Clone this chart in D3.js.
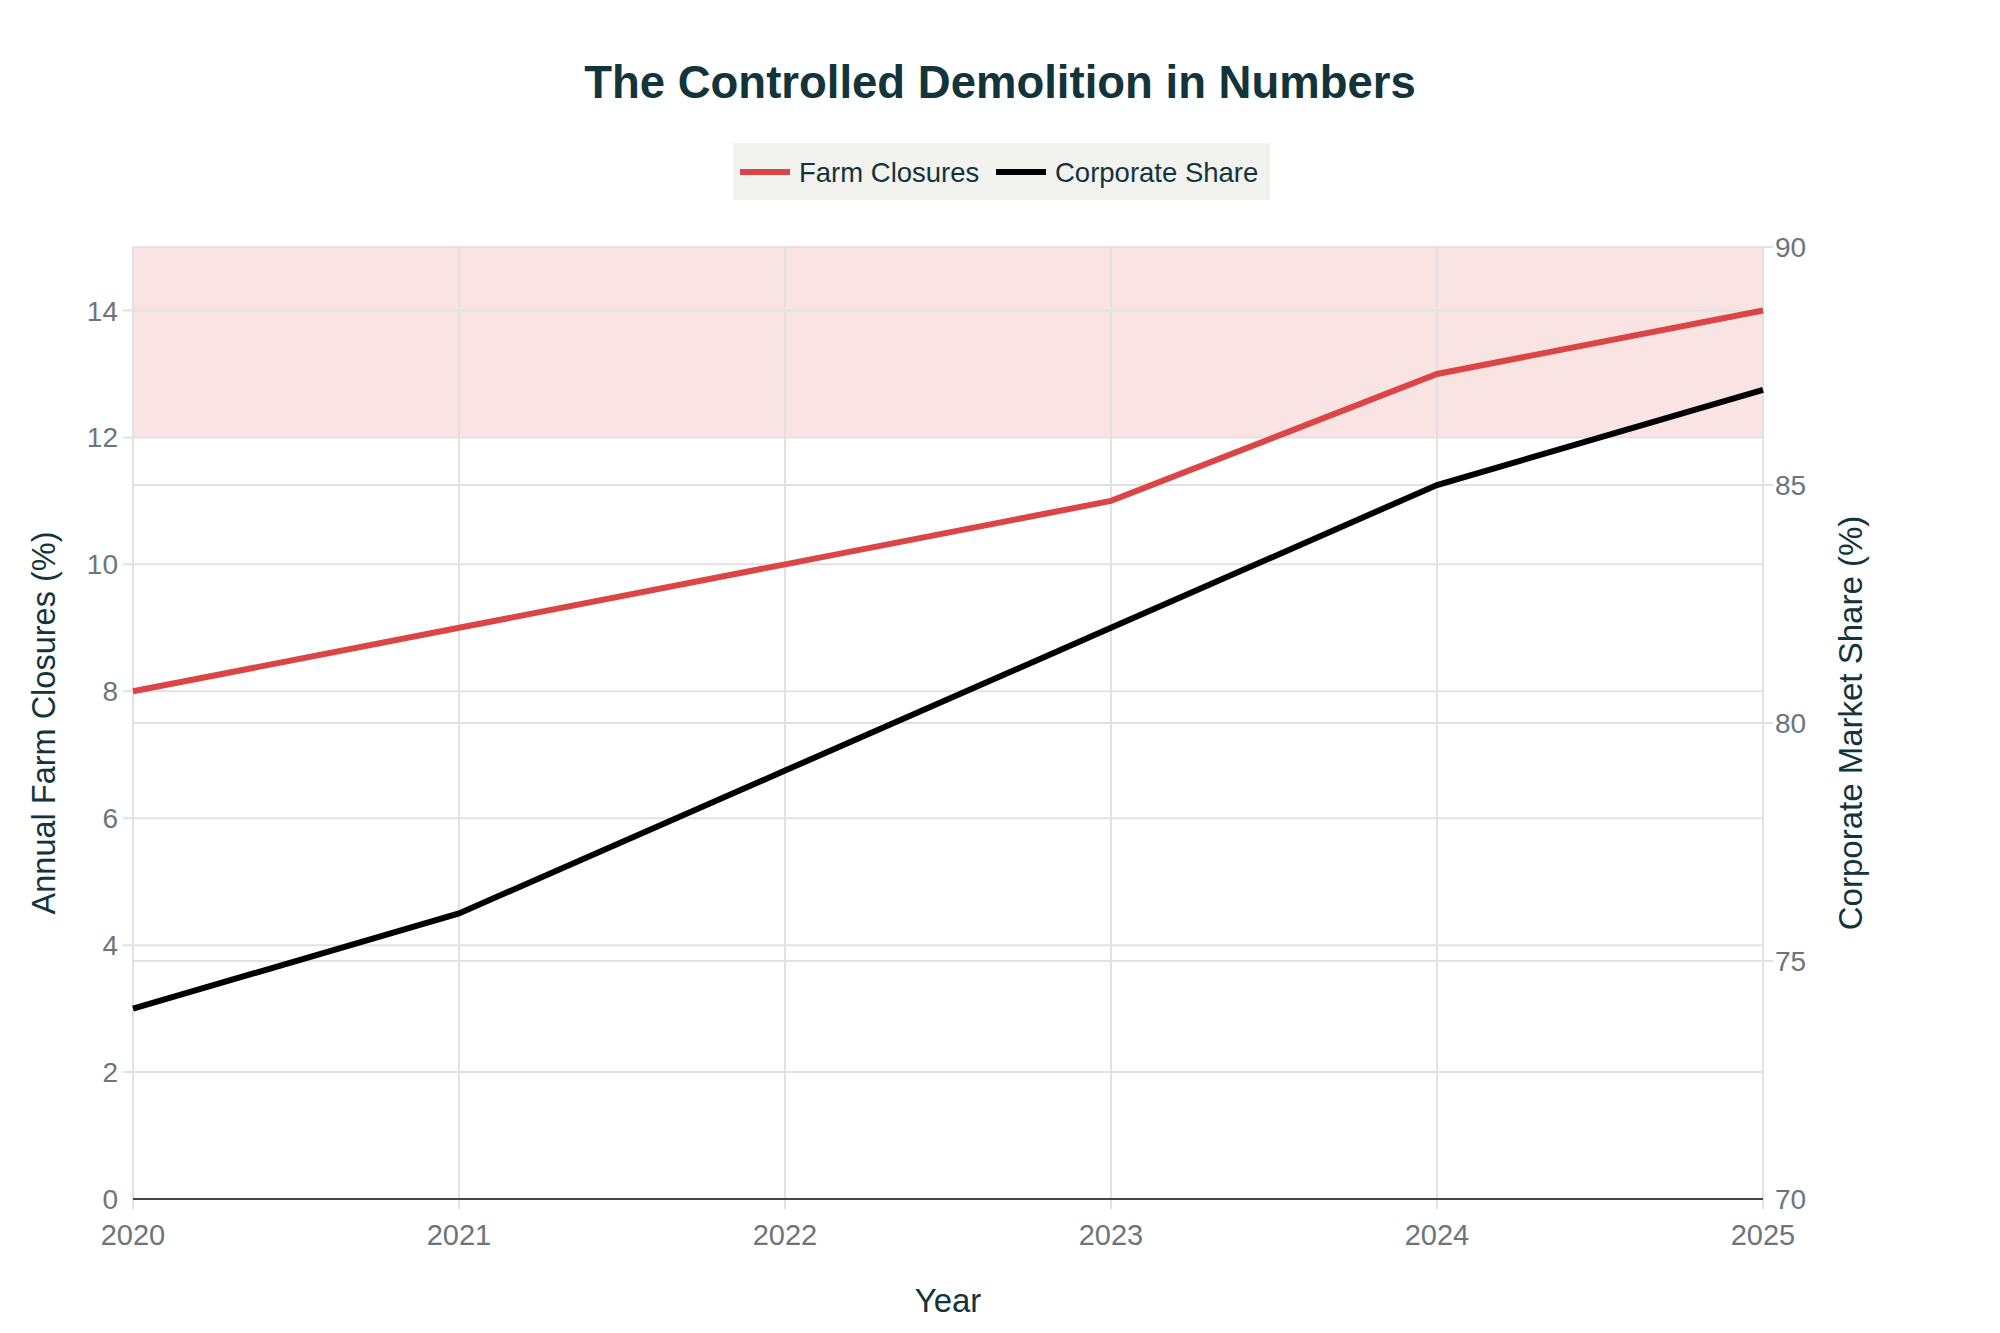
<!DOCTYPE html>
<html>
<head>
<meta charset="utf-8">
<script src="https://cdn.jsdelivr.net/npm/d3@7"></script>
<style>
  body { margin: 0; background: #fff; }
  svg { display: block; font-family: "Liberation Sans", Arial, sans-serif; }
</style>
</head>
<body>
<svg id="chart" width="2000" height="1333"></svg>
<script>
const years = [2020, 2021, 2022, 2023, 2024, 2025];
const farmClosures = [8, 9, 10, 11, 13, 14];
const corporateShare = [74, 76, 79, 82, 85, 87];
const leftTicks = [0, 2, 4, 6, 8, 10, 12, 14];
const rightTicks = [70, 75, 80, 85, 90];
const dangerZone = [12, 15];

const width = 2000;
const height = 1333;
const margin = {top: 247, right: 237, bottom: 134, left: 133};

const svg = d3.select('#chart');

const x = d3.scaleLinear()
            .domain([2020, 2025])
            .range([margin.left, width - margin.right]);

const yL = d3.scaleLinear()
             .domain([0, 15])
             .range([height - margin.bottom, margin.top]);

const yR = d3.scaleLinear()
             .domain([70, 90])
             .range([height - margin.bottom, margin.top]);

const gridCol = '#e2e2e2';
const tickCol = '#6b767c';
const darkCol = '#13343b';

// shaded band (12-15)
svg.append('rect')
    .attr('x', x(2020))
    .attr('width', x(2025) - x(2020))
    .attr('y', yL(dangerZone[1]))
    .attr('height', yL(dangerZone[0]) - yL(dangerZone[1]))
    .attr('fill', '#db4545')
    .attr('fill-opacity', 0.15);

// gridlines
svg.append('g')
    .selectAll('line')
    .data(years)
    .join('line')
    .attr('x1', d => x(d)).attr('x2', d => x(d))
    .attr('y1', margin.top).attr('y2', height - margin.bottom + 10)
    .attr('stroke', gridCol).attr('stroke-width', 2);

svg.append('g')
    .selectAll('line')
    .data(leftTicks.filter(d => d > 0))
    .join('line')
    .attr('x1', margin.left - 10).attr('x2', width - margin.right)
    .attr('y1', d => yL(d)).attr('y2', d => yL(d))
    .attr('stroke', gridCol).attr('stroke-width', 2);

svg.append('g')
    .selectAll('line')
    .data(rightTicks.filter(d => d > 70))
    .join('line')
    .attr('x1', margin.left).attr('x2', width - margin.right + 10)
    .attr('y1', d => yR(d)).attr('y2', d => yR(d))
    .attr('stroke', gridCol).attr('stroke-width', 2);

// zero line
svg.append('line')
    .attr('x1', margin.left).attr('x2', width - margin.right)
    .attr('y1', yL(0)).attr('y2', yL(0))
    .attr('stroke', '#444').attr('stroke-width', 2);

// tick labels
svg.append('g')
    .selectAll('text')
    .data(leftTicks)
    .join('text')
    .attr('x', margin.left - 15)
    .attr('y', d => yL(d))
    .attr('dy', '0.36em')
    .attr('text-anchor', 'end')
    .attr('font-size', 28)
    .attr('fill', tickCol)
    .text(d => d);

svg.append('g')
    .selectAll('text')
    .data(rightTicks)
    .join('text')
    .attr('x', width - margin.right + 12)
    .attr('y', d => yR(d))
    .attr('dy', '0.36em')
    .attr('font-size', 28)
    .attr('fill', tickCol)
    .text(d => d);

svg.append('g')
    .selectAll('text')
    .data(years)
    .join('text')
    .attr('x', d => x(d))
    .attr('y', height - margin.bottom + 46)
    .attr('text-anchor', 'middle')
    .attr('font-size', 29)
    .attr('fill', tickCol)
    .text(d => d);

// lines
const lineL = d3.line()
                .x((d, i) => x(years[i]))
                .y(d => yL(d));
const lineR = d3.line()
                .x((d, i) => x(years[i]))
                .y(d => yR(d));

svg.append('path')
    .attr('d', lineL(farmClosures))
    .attr('fill', 'none')
    .attr('stroke', '#db4545')
    .attr('stroke-width', 6);

svg.append('path')
    .attr('d', lineR(corporateShare))
    .attr('fill', 'none')
    .attr('stroke', '#000')
    .attr('stroke-width', 6);

// titles
svg.append('text')
    .attr('x', 1000).attr('y', 98)
    .attr('text-anchor', 'middle')
    .attr('font-size', 45.5)
    .attr('font-weight', 'bold')
    .attr('fill', darkCol)
    .text('The Controlled Demolition in Numbers');

svg.append('text')
    .attr('x', (margin.left + width - margin.right) / 2)
    .attr('y', 1312)
    .attr('text-anchor', 'middle')
    .attr('font-size', 33)
    .attr('fill', darkCol)
    .text('Year');

svg.append('text')
    .attr('transform', `translate(55, ${(margin.top + height - margin.bottom) / 2}) rotate(-90)`)
    .attr('text-anchor', 'middle')
    .attr('font-size', 32.5)
    .attr('fill', darkCol)
    .text('Annual Farm Closures (%)');

svg.append('text')
    .attr('transform', `translate(1862, ${(margin.top + height - margin.bottom) / 2}) rotate(-90)`)
    .attr('text-anchor', 'middle')
    .attr('font-size', 33)
    .attr('fill', darkCol)
    .text('Corporate Market Share (%)');

// legend
const legendItems = [
  {name: 'Farm Closures', color: '#db4545', x: 740},
  {name: 'Corporate Share', color: '#000', x: 996}
];

svg.append('rect')
    .attr('x', 733).attr('y', 143)
    .attr('width', 537).attr('height', 57)
    .attr('fill', '#f2f2ee');

const lg = svg.append('g')
    .selectAll('g')
    .data(legendItems)
    .join('g')
    .attr('transform', d => `translate(${d.x},172)`);

lg.append('line')
    .attr('x1', 0).attr('x2', 50)
    .attr('stroke', d => d.color)
    .attr('stroke-width', 6);

lg.append('text')
    .attr('x', 59)
    .attr('dy', '0.36em')
    .attr('font-size', 27.5)
    .attr('fill', darkCol)
    .text(d => d.name);
</script>
</body>
</html>
